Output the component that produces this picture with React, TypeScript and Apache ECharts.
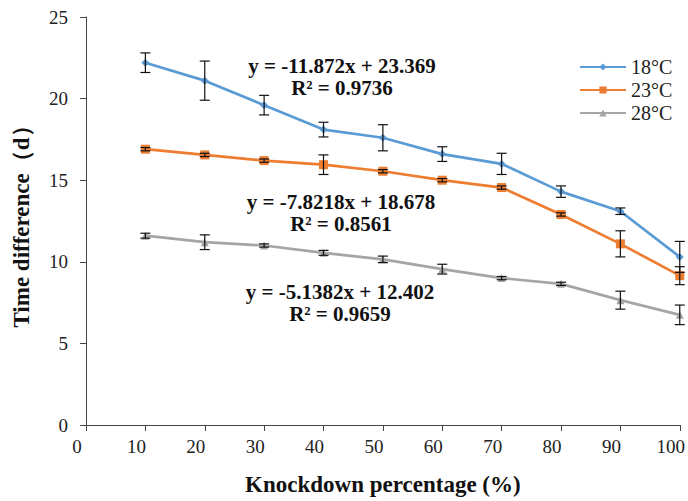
import React, { useEffect, useRef } from "react";
import * as echarts from "echarts";

const knockdown = [10, 20, 30, 40, 50, 60, 70, 80, 90, 100];
const series18 = [22.2, 21.1, 19.6, 18.1, 17.6, 16.6, 16.0, 14.3, 13.1, 10.3];
const err18 = [0.6, 1.2, 0.6, 0.45, 0.8, 0.45, 0.65, 0.35, 0.2, 0.95];
const series23 = [16.9, 16.55, 16.2, 15.95, 15.55, 15.0, 14.55, 12.9, 11.1, 9.15];
const err23 = [0.1, 0.1, 0.1, 0.6, 0.1, 0.1, 0.1, 0.1, 0.8, 0.55];
const series28 = [11.6, 11.2, 11.0, 10.55, 10.15, 9.55, 9.0, 8.65, 7.65, 6.75];
const err28 = [0.15, 0.45, 0.1, 0.15, 0.2, 0.3, 0.1, 0.1, 0.55, 0.6];
const seriesNames = ["18°C", "23°C", "28°C"];
const equations = [
  ["y = -11.872x + 23.369", "R² = 0.9736"],
  ["y = -7.8218x + 18.678", "R² = 0.8561"],
  ["y = -5.1382x + 12.402", "R² = 0.9659"],
];

const FONT = "'Liberation Serif', 'Times New Roman', serif";

function errData(vals: number[], errs: number[]) {
  return knockdown.map((x, i) => [x, vals[i] - errs[i], vals[i] + errs[i]]);
}

const errRender = (params: any, api: any) => {
  const x = api.value(0);
  const lo = api.coord([x, api.value(1)]);
  const hi = api.coord([x, api.value(2)]);
  const half = 5;
  const style = { stroke: "#111", lineWidth: 1.2 };
  return {
    type: "group",
    children: [
      { type: "line", shape: { x1: lo[0], y1: lo[1], x2: hi[0], y2: hi[1] }, style },
      { type: "line", shape: { x1: lo[0] - half, y1: lo[1], x2: lo[0] + half, y2: lo[1] }, style },
      { type: "line", shape: { x1: hi[0] - half, y1: hi[1], x2: hi[0] + half, y2: hi[1] }, style },
    ],
  };
};

export default function App() {
  const ref = useRef<HTMLDivElement>(null);
  useEffect(() => {
    if (!ref.current) return;
    const chart = echarts.init(ref.current, null, { renderer: "svg" });
    const colors = ["#5B9BD5", "#ED7D31", "#A5A5A5"];
    const symbols = ["diamond", "rect", "triangle"];
    const vals = [series18, series23, series28];
    const errs = [err18, err23, err28];
    const lineSeries = vals.map((v, i) => ({
      name: seriesNames[i],
      type: "line",
      data: knockdown.map((x, j) => [x, v[j]]),
      symbol: symbols[i],
      symbolSize: i === 1 ? 9 : 8,
      lineStyle: { color: colors[i], width: 2.7 },
      itemStyle: { color: colors[i] },
      z: 2,
    }));
    const errSeries = vals.map((v, i) => ({
      type: "custom",
      renderItem: errRender,
      data: errData(v, errs[i]),
      z: 3,
      silent: true,
    }));
    const eqPos = [
      [342, 66],
      [341, 202],
      [340, 292],
    ];
    const graphics: any[] = [];
    equations.forEach((eq, i) => {
      eq.forEach((t, k) => {
        graphics.push({
          type: "text",
          x: eqPos[i][0],
          y: eqPos[i][1] + k * 22,
          style: {
            text: t,
            font: `bold 21px ${FONT}`,
            fill: "#111",
            textAlign: "center",
            textVerticalAlign: "middle",
          },
        });
      });
    });
    chart.setOption({
      animation: false,
      backgroundColor: "#fff",
      grid: { left: 86, right: 8, top: 17, bottom: 75 },
      legend: {
        data: seriesNames,
        orient: "vertical",
        left: 574,
        top: 52,
        itemWidth: 46,
        itemHeight: 9,
        itemGap: 3,
        textStyle: { fontFamily: FONT, fontSize: 20, color: "#222" },
      },
      xAxis: {
        type: "value",
        min: 0,
        max: 100,
        interval: 10,
        name: "Knockdown percentage (%)",
        nameLocation: "middle",
        nameGap: 48,
        nameTextStyle: { fontFamily: FONT, fontSize: 23, fontWeight: "bold", color: "#111" },
        axisLine: { lineStyle: { color: "#444", width: 1 } },
        axisTick: { lineStyle: { color: "#444" }, length: 6 },
        axisLabel: {
          fontFamily: FONT,
          fontSize: 19,
          color: "#222",
          margin: 12,
          padding: [0, 18, 0, 0],
        },
        splitLine: { show: false },
      },
      yAxis: {
        type: "value",
        min: 0,
        max: 25,
        interval: 5,
        name: "Time difference（d）",
        nameLocation: "middle",
        nameGap: 53,
        nameTextStyle: { fontFamily: FONT, fontSize: 23, fontWeight: "bold", color: "#111" },
        axisLine: { show: true, lineStyle: { color: "#444", width: 1 } },
        axisTick: { show: true, lineStyle: { color: "#444" }, length: 6 },
        axisLabel: { fontFamily: FONT, fontSize: 19, color: "#222", margin: 18 },
        splitLine: { show: false },
      },
      graphic: graphics,
      series: [...lineSeries, ...errSeries],
    });
    return () => chart.dispose();
  }, []);
  return <div ref={ref} style={{ width: 688, height: 501, position: "absolute", left: 0, top: 0 }} />;
}
